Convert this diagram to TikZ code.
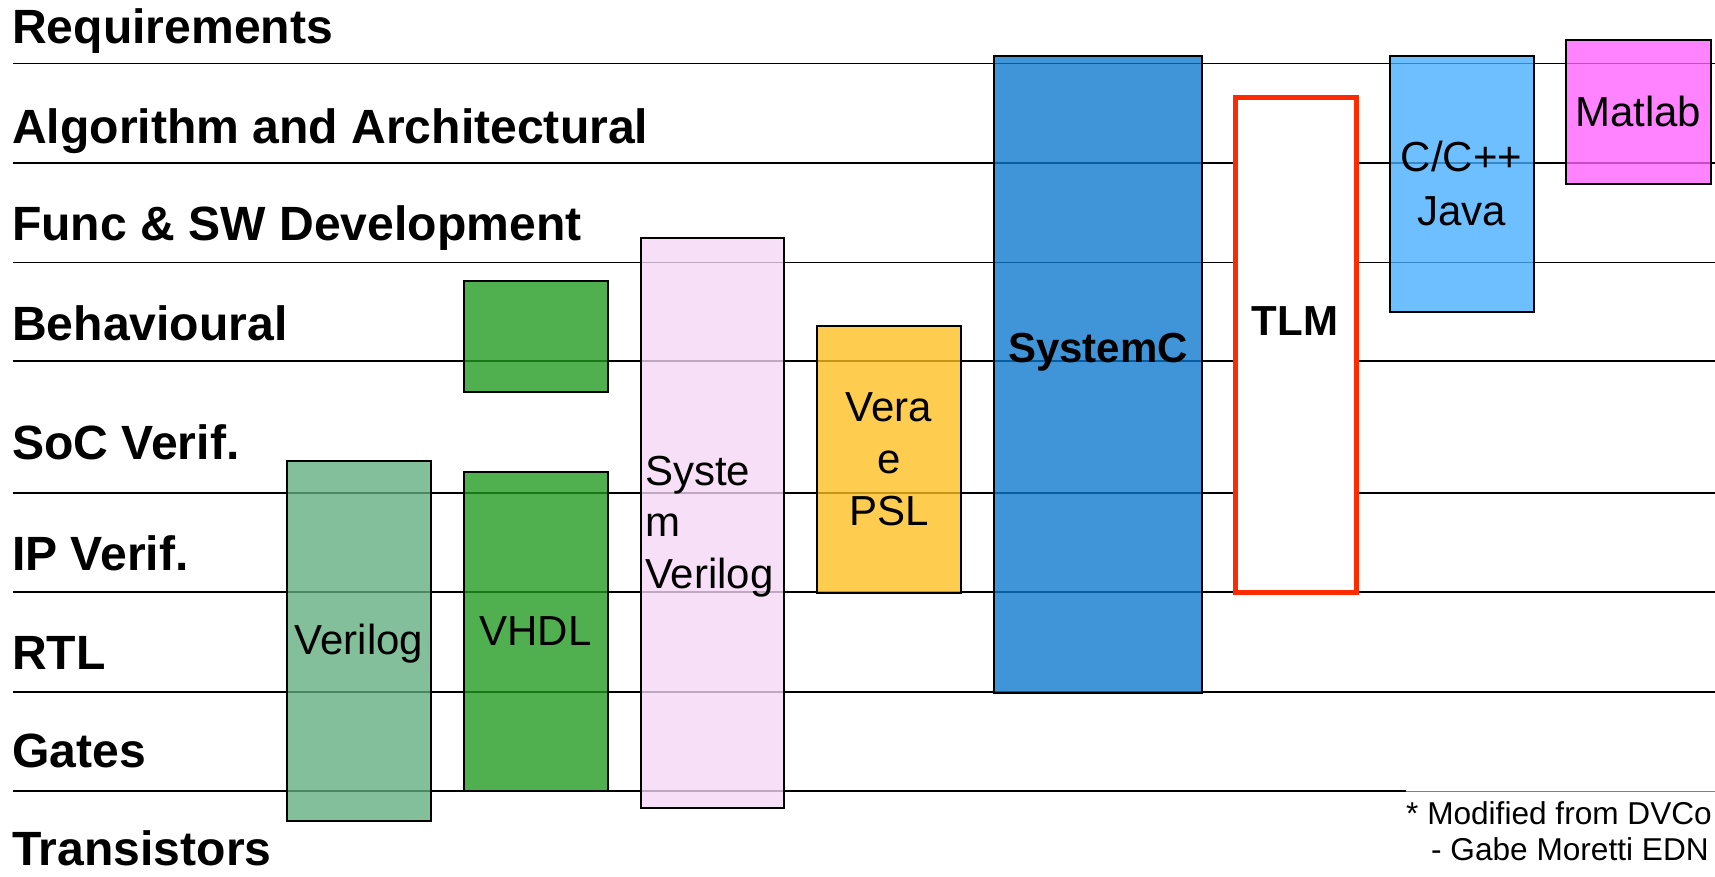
\documentclass[tikz,border=0pt]{standalone}
\usepackage{fontspec}
\setmainfont{Liberation Sans}
\usetikzlibrary{shadows}
\definecolor{cVerilog}{RGB}{96,174,126}
\definecolor{cGreen}{RGB}{31,155,31}
\definecolor{cPink}{RGB}{246,215,245}
\definecolor{cVera}{RGB}{254,191,31}
\definecolor{cSysC}{RGB}{9,120,206}
\definecolor{cCpp}{RGB}{70,174,255}
\definecolor{cMatlab}{RGB}{255,96,255}
\definecolor{cRed}{RGB}{255,42,0}
\tikzset{
  hline/.style={draw=black, line width=1.8pt},
  box/.style={draw=black, line width=2pt, fill opacity=0.78},
  lbl/.style={anchor=base west, inner sep=0pt, font=\fontsize{48.1}{57}\selectfont\bfseries},
  btxt/.style={anchor=base, inner sep=0pt, font=\fontsize{42}{50}\selectfont},
  bbold/.style={anchor=base, inner sep=0pt, font=\fontsize{42}{50}\selectfont\bfseries},
  note/.style={anchor=base west, inner sep=0pt, font=\fontsize{31.6}{38}\selectfont}
}
\begin{document}
\begin{tikzpicture}[x=1pt,y=-1pt]
\useasboundingbox (0,0) rectangle (1715,876);
\fill[white] (0,0) rectangle (1715,876);
% horizontal level lines
\foreach \yy in {63.5,163,262.5,361.2,493,592.3,692}
  \draw[hline] (13,\yy) -- (1715,\yy);
\draw[hline] (13,791) -- (1406,791);
\draw[gray, line width=1pt] (1406,791) -- (1715,791);
% level labels
\node[lbl] (req) at (12,43.3) {Requirements};
\node[lbl] (alg) at (12,143) {Algorithm and Architectural};
\node[lbl] (func) at (12,240) {Func \& SW Development};
\node[lbl] (beh) at (12,340) {Behavioural};
\node[lbl] (soc) at (12,459) {SoC Verif.};
\node[lbl] (ipv) at (12,570.7) {IP Verif.};
\node[lbl] (rtl) at (12,669) {RTL};
\node[lbl] (gat) at (12,767.7) {Gates};
\node[lbl] (tra) at (12,865) {Transistors};
% boxes
\draw[box, fill=cGreen] (463.5,280.5) rectangle (607.5,391.5);
\draw[box, fill=cGreen] (463.5,472) rectangle (607.5,790.5);
\draw[box, fill=cVerilog] (287,460.5) rectangle (431,820.5);
\draw[box, fill=cPink] (640.5,238) rectangle (784,808);
\draw[box, fill=cVera] (817,326) rectangle (960.5,592.5);
\draw[box, fill=cSysC] (994,56) rectangle (1202,692.5);
\draw[box, fill=cCpp] (1389.5,56) rectangle (1533.5,312);
\draw[box, fill=cMatlab] (1566,40) rectangle (1710.5,183.5);
\draw[draw=cRed, line width=5pt, fill=white,
      drop shadow={shadow xshift=3pt, shadow yshift=-3pt, opacity=0.25}]
      (1235,97) rectangle (1356,592);
% box texts
\node[btxt] (verilog) at (359,654) {Verilog};
\node[btxt] (vhdl) at (535.5,645.7) {VHDL};
\node[btxt, anchor=base west] (sv1) at (645,485) {Syste};
\node[btxt, anchor=base west] (sv2) at (645,536.7) {m};
\node[btxt, anchor=base west] (sv3) at (645,588.3) {Verilog};
\node[btxt] (vera1) at (888.7,421) {Vera};
\node[btxt] (vera2) at (888.7,473.3) {e};
\node[btxt] (vera3) at (888.7,525) {PSL};
\node[bbold] (sysc) at (1098,362.7) {SystemC};
\node[bbold] (tlm) at (1295,335.7) {TLM};
\node[btxt] (cpp) at (1461.5,171.7) {C/C++};
\node[btxt] (java) at (1461.5,225) {Java};
\node[btxt] (matlab) at (1638.3,126.7) {Matlab};
% footnote
\node[note] (n1) at (1406,824) {* Modified from DVCo};
\node[note] (n2) at (1431,860) {- Gabe Moretti EDN};
\end{tikzpicture}
\end{document}
